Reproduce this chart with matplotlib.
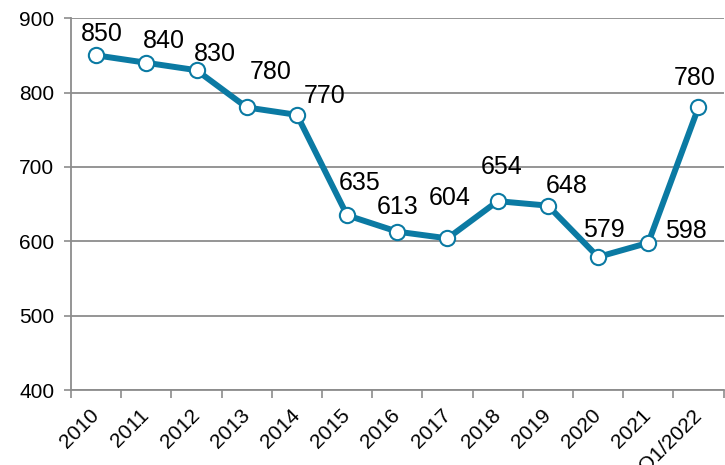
#!/usr/bin/env python
# coding: utf-8

import matplotlib
matplotlib.use("Agg")
import matplotlib.pyplot as plt
from matplotlib.ticker import FixedLocator

# Chart data
years = ["2010", "2011", "2012", "2013", "2014", "2015", "2016",
         "2017", "2018", "2019", "2020", "2021", "Q1/2022"]
values = [850, 840, 830, 780, 770, 635, 613, 604, 654, 648, 579, 598, 780]
y_ticks = [400, 500, 600, 700, 800, 900]

# Label nudges (pixels) to mimic the hand-placed labels of the original
label_offsets = [(6, 21), (18, 22), (18, 16), (24, 35), (28, 19), (13, 32),
                 (0, 25), (2, 40), (4, 34), (19, 20), (6, 27), (38, 12),
                 (-4, 29)]

LINE_COLOR = "#0b7aa3"
GRID_COLOR = "#8c8c8c"

plt.rcParams["font.family"] = ["Liberation Sans", "DejaVu Sans"]


def main():
    fig = plt.figure(figsize=(7.25, 4.65), dpi=100)
    ax = fig.add_axes([0.098, 0.161, 0.9, 0.8])

    xs = list(range(len(years)))
    ax.plot(xs, values, color=LINE_COLOR, linewidth=4.3, marker="o",
            markersize=11, markerfacecolor="white",
            markeredgecolor=LINE_COLOR, markeredgewidth=1.5,
            zorder=3, clip_on=False)

    for x, v, (dx, dy) in zip(xs, values, label_offsets):
        ax.annotate(str(v), (x, v), xytext=(dx, dy),
                    textcoords="offset pixels", ha="center", va="center",
                    fontsize=18, color="black")

    # y axis
    ax.set_ylim(400, 900)
    ax.set_yticks(y_ticks)
    ax.tick_params(axis="y", labelsize=15, length=5, width=1.2,
                   color=GRID_COLOR, pad=7)
    ax.yaxis.grid(True, color=GRID_COLOR, linewidth=1.3)
    ax.set_axisbelow(True)

    # x axis: tick marks between categories, labels at centres
    ax.set_xlim(-0.5, len(years) - 0.5)
    ax.xaxis.set_major_locator(FixedLocator(
        [i - 0.5 for i in range(len(years) + 1)]))
    ax.xaxis.set_minor_locator(FixedLocator(xs))
    ax.set_xticklabels([], minor=False)
    ax.set_xticklabels(years, minor=True, rotation=45, ha="right",
                       va="center", rotation_mode="anchor", fontsize=15)
    ax.tick_params(axis="x", which="major", length=6, width=1.2,
                   color=GRID_COLOR)
    ax.tick_params(axis="x", which="minor", length=0, pad=16)

    for side in ["top", "right"]:
        ax.spines[side].set_visible(False)
    for side in ["left", "bottom"]:
        ax.spines[side].set_color(GRID_COLOR)
        ax.spines[side].set_linewidth(1.3)

    fig.savefig("out.png", dpi=100)


if __name__ == "__main__":
    main()
